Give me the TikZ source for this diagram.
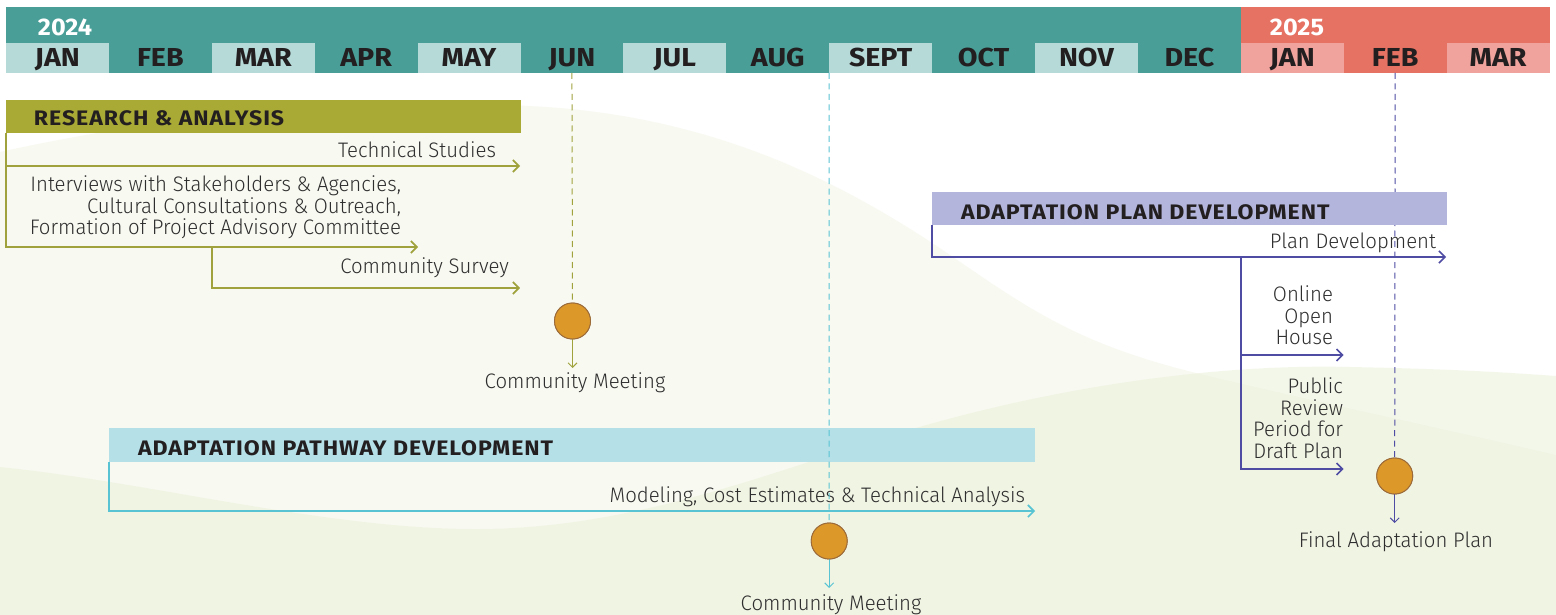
\documentclass[tikz,border=0pt]{standalone}
\usepackage{fontspec}
\setmainfont{Fira Sans}
\newfontfamily\bodyf{Fira Sans Light}[FakeStretch=0.97]
\newfontfamily\headf{Fira Sans}[FakeStretch=1.1, LetterSpace=4.5]
\newfontfamily\monf{Fira Sans}[FakeStretch=1.1]
\newfontfamily\yrf{Fira Sans}[FakeStretch=1.05]
\usetikzlibrary{arrows.meta}
\definecolor{teal}{HTML}{4A9E98}
\definecolor{tealL}{HTML}{B5DAD8}
\definecolor{coral}{HTML}{E57263}
\definecolor{coralL}{HTML}{F0A39C}
\definecolor{oliveBox}{HTML}{A9AA36}
\definecolor{oliveL}{HTML}{A0A23E}
\definecolor{lavBox}{HTML}{B3B5DC}
\definecolor{purpL}{HTML}{4F4CA3}
\definecolor{skyBox}{HTML}{B5E0E8}
\definecolor{cyanL}{HTML}{58C3D3}
\definecolor{orangeF}{HTML}{DD982A}
\definecolor{orangeD}{HTML}{9A6A3A}
\definecolor{txt}{HTML}{2E2E2E}
\definecolor{headc}{HTML}{231F20}
\definecolor{bgA}{HTML}{F8F9F1}
\definecolor{bgB}{HTML}{E9F0D6}
\begin{document}
\begin{tikzpicture}[x=1pt,y=-1pt,
  every node/.style={inner sep=0pt, outer sep=0pt},
  body/.style={font=\bodyf\fontsize{21}{21.5}\selectfont, text=txt},
  head/.style={font=\headf\bfseries\fontsize{21}{24}\selectfont, text=headc},
  mon/.style={font=\monf\bfseries\fontsize{26}{30}\selectfont, text=headc,
    text height=18pt, text depth=0pt,
    minimum width=102.9pt, minimum height=30pt, anchor=north west},
  yr/.style={font=\yrf\bfseries\fontsize{24}{28}\selectfont, text=white},
  bar/.style={anchor=north west},
  phasebox/.style={anchor=north west, minimum height=33pt},
  arr/.style={line width=1.6pt, -{Straight Barb[length=6pt,width=12pt]}},
  smallarr/.style={line width=1pt, -{Straight Barb[length=4.5pt,width=9pt]}},
  dashline/.style={line width=1pt, dash pattern=on 6pt off 4.5pt},
  mile/.style={circle, minimum size=36pt, fill=orangeF, draw=orangeD, line width=0.9pt}
]
\useasboundingbox (0,0) rectangle (1556,615);
% background
\fill[white] (0,0) rectangle (1556,615);
\fill[bgA] (0,152) .. controls (200,108) and (400,96) .. (560,108)
  .. controls (720,122) and (840,180) .. (950,255)
  .. controls (1030,310) and (1080,345) .. (1200,374)
  .. controls (1330,405) and (1450,430) .. (1556,455)
  -- (1556,615) -- (0,615) -- cycle;
\fill[bgB, opacity=0.5] (0,467) .. controls (150,482) and (330,530) .. (480,529)
  .. controls (650,528) and (800,460) .. (930,424)
  .. controls (1080,382) and (1230,364) .. (1350,367)
  .. controls (1450,369) and (1500,372) .. (1556,376)
  -- (1556,615) -- (0,615) -- cycle;
% header
\node[bar, fill=teal, minimum width=1234.8pt, minimum height=36pt] (bar24) at (6,7) {};
\node[bar, fill=coral, minimum width=308.7pt, minimum height=36pt] (bar25) at (1240.8,7) {};
\node[yr] (y24) at (65,27) {2024};
\node[yr] (y25) at (1297,27) {2025};
\foreach \i/\lab/\col in {0/JAN/tealL,1/FEB/teal,2/MAR/tealL,3/APR/teal,4/MAY/tealL,
  5/JUN/teal,6/JUL/tealL,7/AUG/teal,8/SEPT/tealL,9/OCT/teal,10/NOV/tealL,11/DEC/teal,
  12/JAN/coralL,13/FEB/coral,14/MAR/coralL}
  \node[mon, fill=\col] (mo\i) at ({6+\i*102.9},43) {\lab};

% milestone circles
\node[mile] (mi1) at (572.5,321) {};
\node[mile] (mi2) at (829.2,541) {};
\node[mile] (mi3) at (1394.7,476) {};

% FEB dashed line (under plan box)
\draw[purpL, dashline] (mo13.south) -- (mi3.north);
\draw[oliveL, dashline] (mo5.south) -- (mi1.north);

% Research & Analysis
\node[phasebox, fill=oliveBox, minimum width=514.5pt] (ra) at (6,100) {};
\node[head, anchor=base west] (raT) at (34,126) {RESEARCH \& ANALYSIS};
\coordinate (tsE) at (520,166);
\coordinate (ivE) at (418,247);
\coordinate (csS) at (211.8,247);
\coordinate (csE) at (520,288);
\draw[oliveL, arr] (ra.south west) |- (tsE);
\draw[oliveL, arr] (ra.south west) |- (ivE);
\draw[oliveL, arr] (csS) |- (csE);
\node[body, anchor=base east] (ts) at (496,158) {Technical Studies};
\node[body, anchor=north east, align=right] (iv) at (401,176)
  {Interviews with Stakeholders \& Agencies,\\Cultural Consultations \& Outreach,\\Formation of Project Advisory Committee};
\node[body, anchor=base east] (cs) at (509,273) {Community Survey};

% Plan development
\node[phasebox, fill=lavBox, minimum width=514.5pt] (pd) at (932,192) {};
\node[head, anchor=base west] (pdT) at (961,219) {ADAPTATION PLAN DEVELOPMENT};
\coordinate (pdE) at (1446,257);
\coordinate (brS) at (1240.8,257);
\coordinate (ohE) at (1343.7,355);
\coordinate (prE) at (1343.7,469);
\draw[purpL, arr] (pd.south west) |- (pdE);
\draw[purpL, arr] (brS) |- (ohE);
\draw[purpL, arr] (brS) |- (prE);
\node[body, anchor=base east] (pdl) at (1436,248) {Plan Development};
\node[body, anchor=north east, align=right] (oh) at (1333,286) {Online\\Open\\House};
\node[body, anchor=north east, align=right] (pr) at (1343,378) {Public\\Review\\Period for\\Draft Plan};

% Pathway development
\node[phasebox, fill=skyBox, minimum width=926.1pt, minimum height=34pt] (ap) at (108.9,428) {};
\node[head, anchor=base west] (apT) at (138,455) {ADAPTATION PATHWAY DEVELOPMENT};
\coordinate (apE) at (1035,511);
\draw[cyanL, arr] (ap.south west) |- (apE);
\node[body, anchor=base east] (mod) at (1025,502) {Modeling, Cost Estimates \& Technical Analysis};
\draw[cyanL, dashline] (mo8.south west) -- (mi2.north);

% milestone arrows and labels
\coordinate (mi1E) at (572.5,368);
\coordinate (mi2E) at (829.2,588);
\coordinate (mi3E) at (1394.7,523);
\draw[oliveL, smallarr] (mi1.south) -- (mi1E);
\draw[cyanL, smallarr] (mi2.south) -- (mi2E);
\draw[purpL, smallarr] (mi3.south) -- (mi3E);
\node[body, anchor=base] (cm1) at (575,388) {Community Meeting};
\node[body, anchor=base] (cm2) at (831,610) {Community Meeting};
\node[body, anchor=base] (fap) at (1396,547) {Final Adaptation Plan};
% redraw circles on top
\node[mile] at (mi1) {};
\node[mile] at (mi2) {};
\node[mile] at (mi3) {};
\end{tikzpicture}
\end{document}
